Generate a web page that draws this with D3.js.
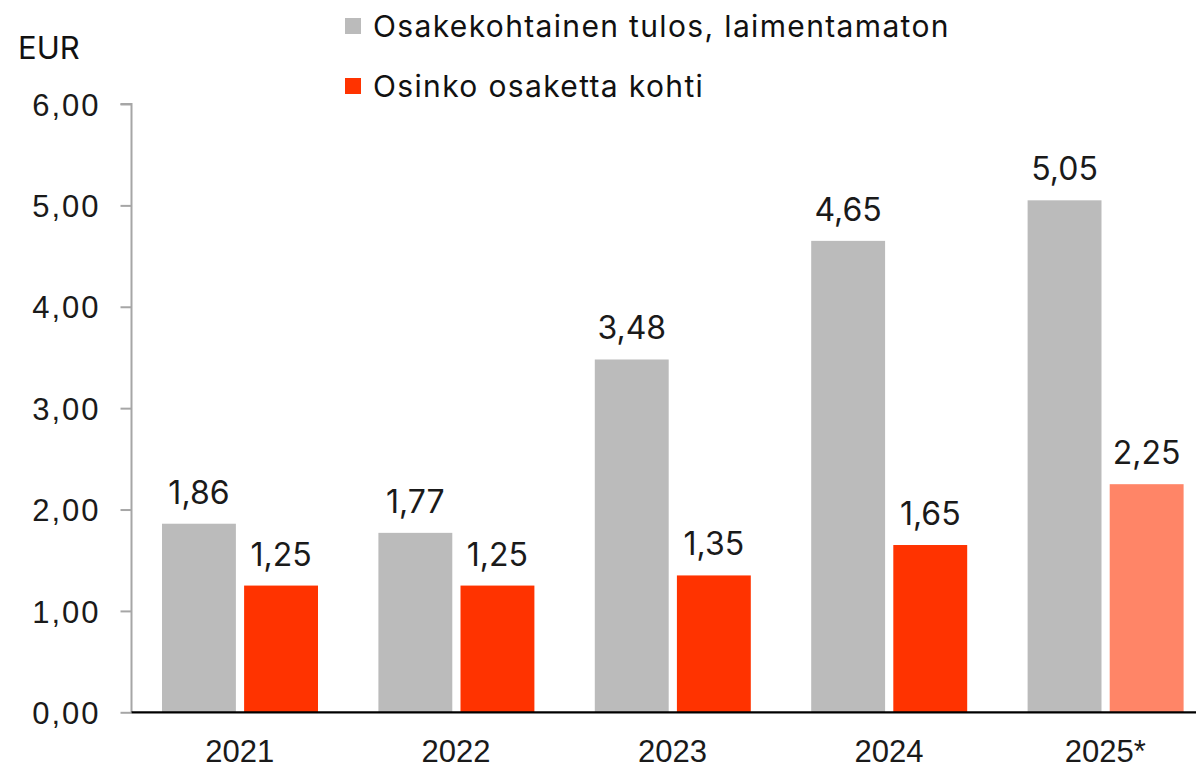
<!DOCTYPE html>
<html>
<head>
<meta charset="utf-8">
<script src="https://cdn.jsdelivr.net/npm/d3@7"></script>
<style>
  html, body { margin: 0; padding: 0; background: #fff; }
  svg { display: block; font-family: Inter, "Noto Sans", sans-serif; }
</style>
</head>
<body>
<svg id="chart" width="1196" height="770"></svg>
<script>
const years = ["2021", "2022", "2023", "2024", "2025*"];
const seriesNames = ["Osakekohtainen tulos, laimentamaton", "Osinko osaketta kohti"];
const eps = [1.86, 1.77, 3.48, 4.65, 5.05];
const dividend = [1.25, 1.25, 1.35, 1.65, 2.25];
const yTicks = [0, 1, 2, 3, 4, 5, 6];
const yUnit = "EUR";

const GREY = "#BBBBBB", RED = "#FF3300", LIGHTRED = "#FF8567";
const fmt = v => d3.format(".2f")(v).replace(".", ",");

const svg = d3.select("#chart");
const y = d3.scaleLinear().domain([0, 6]).range([712.3, 104]);
const x0 = d3.scaleBand().domain(years).range([131.5, 1213.5]).padding(0);
const x1 = d3.scaleBand().domain([0, 1]).range([30.5, 186.5]).paddingInner(0.1).paddingOuter(0);

// y axis
const yAxis = d3.axisLeft(y).tickValues(yTicks).tickSize(11).tickPadding(20).tickFormat(fmt);
const gy = svg.append("g").attr("transform", "translate(131.5,0)").call(yAxis);
gy.select(".domain").attr("stroke", "#A6A6A6").attr("stroke-width", 2).attr("d", `M-11,${y(6)}H0V${y(0)}`);
gy.selectAll(".tick line").attr("stroke", "#A6A6A6").attr("stroke-width", 2);
gy.selectAll(".tick text").attr("fill", "#1a1a1a").style("font-size", "31px")
  .style("letter-spacing", "2px").attr("dy", "0.36em");

// bars
const data = years.map((yr, i) => ({ yr, vals: [eps[i], dividend[i]] }));
const groups = svg.append("g").selectAll("g").data(data).join("g")
  .attr("transform", d => `translate(${x0(d.yr)},0)`);

groups.selectAll("rect").data((d, i) => d.vals.map((v, k) => ({ v, k, last: i === years.length - 1 })))
  .join("rect")
  .attr("x", d => x1(d.k))
  .attr("width", x1.bandwidth())
  .attr("y", d => y(d.v))
  .attr("height", d => y(0) - y(d.v))
  .attr("fill", d => d.k === 0 ? GREY : (d.last ? LIGHTRED : RED));

groups.selectAll("text.val").data(d => d.vals.map((v, k) => ({ v, k })))
  .join("text").attr("class", "val")
  .attr("x", d => x1(d.k) + x1.bandwidth() / 2)
  .attr("y", d => y(d.v) - 20)
  .attr("text-anchor", "middle")
  .attr("fill", "#1a1a1a")
  .style("font-size", "32px")
  .text(d => fmt(d.v));

// x axis baseline
const xAxis = d3.axisBottom(x0).tickSize(0).tickPadding(27);
const gx = svg.append("g").attr("transform", `translate(0,${y(0)})`).call(xAxis);
gx.select(".domain").attr("stroke", "#000").attr("stroke-width", 2.2).attr("d", "M131.5,0H1196");
gx.selectAll(".tick text").attr("fill", "#1a1a1a").style("font-size", "31px").attr("dy", "0.72em");

// unit label
svg.append("text").attr("x", 18).attr("y", 59).attr("fill", "#111").style("font-size", "31px").text(yUnit);

// legend
const legColors = [GREY, RED];
const leg = svg.append("g").selectAll("g").data(seriesNames).join("g")
  .attr("transform", (d, i) => `translate(345,${18 + i * 60})`);
leg.append("rect").attr("width", 16).attr("height", 16).attr("fill", (d, i) => legColors[i]);
leg.append("text").attr("x", 28).attr("y", 19).attr("fill", "#111").style("font-size", "30px")
  .style("letter-spacing", "1.35px").text(d => d);
</script>
</body>
</html>
